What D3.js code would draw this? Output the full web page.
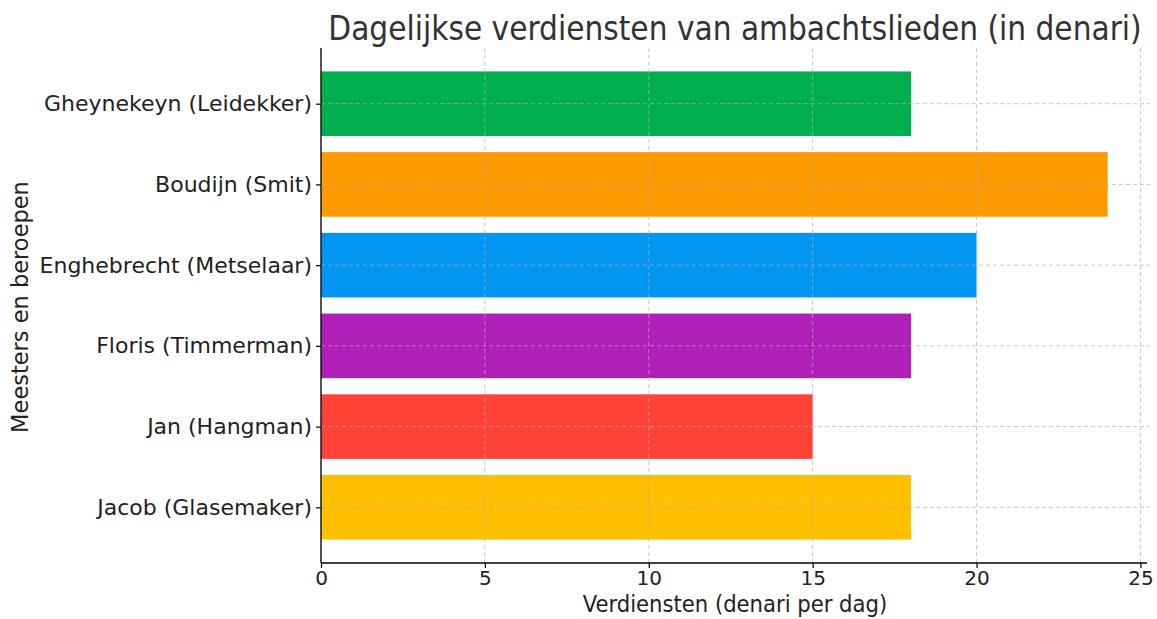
<!DOCTYPE html>
<html>
<head>
<meta charset="utf-8">
<script src="https://cdn.jsdelivr.net/npm/d3@7"></script>
<style>
  html, body { margin: 0; padding: 0; background: #fff; }
  svg { display: block; }
</style>
</head>
<body>
<svg id="chart" width="1157" height="619"></svg>
<script>
// Craftsmen and their daily earnings (bottom to top as drawn)
const craftsmen = [
  "Jacob (Glasemaker)",
  "Jan (Hangman)",
  "Floris (Timmerman)",
  "Enghebrecht (Metselaar)",
  "Boudijn (Smit)",
  "Gheynekeyn (Leidekker)"
];
const earnings = [18, 15, 18, 20, 24, 18];
const barColors = ["#ffc000", "#ff4136", "#b01fb8", "#0096f2", "#ff9900", "#00b04f"];
const xTicks = [0, 5, 10, 15, 20, 25];

const titleText = "Dagelijkse verdiensten van ambachtslieden (in denari)";
const xLabelText = "Verdiensten (denari per dag)";
const yLabelText = "Meesters en beroepen";

const svg = d3.select("#chart");
const plot = { left: 321, right: 1147, top: 48, bottom: 563 };

const x = d3.scaleLinear()
  .domain([0, d3.max(earnings) * 1.05])
  .range([plot.left, plot.right]);

const n = craftsmen.length;
const pad = 0.4 + 0.05 * (n - 1 + 0.8);
const y = d3.scaleLinear()
  .domain([-pad, n - 1 + pad])
  .range([plot.bottom, plot.top]);
const barH = y(0) - y(0.8);

// Bars
svg.append("g")
  .selectAll("rect")
  .data(earnings)
  .join("rect")
  .attr("x", x(0))
  .attr("y", (d, i) => y(i + 0.4))
  .attr("width", d => x(d) - x(0))
  .attr("height", barH)
  .attr("fill", (d, i) => barColors[i]);

// Dashed grid drawn above the bars
const grid = svg.append("g")
  .attr("stroke", "#b0b0b0")
  .attr("stroke-width", 1)
  .attr("stroke-dasharray", "4,3")
  .attr("opacity", 0.7);
grid.selectAll("line.v")
  .data(xTicks)
  .join("line")
  .attr("class", "v")
  .attr("x1", d => x(d)).attr("x2", d => x(d))
  .attr("y1", plot.top).attr("y2", plot.bottom);
grid.selectAll("line.h")
  .data(d3.range(n))
  .join("line")
  .attr("class", "h")
  .attr("x1", plot.left).attr("x2", plot.right + 3)
  .attr("y1", i => y(i)).attr("y2", i => y(i));

// X axis
const xAxis = svg.append("g")
  .attr("transform", `translate(0,${plot.bottom})`)
  .call(d3.axisBottom(x).tickValues(xTicks).tickSize(5).tickPadding(3).tickFormat(d3.format("d")));
xAxis.select(".domain").attr("stroke", "#000").attr("stroke-width", 1.3)
  .attr("d", `M${plot.left},0H${plot.right}`);
xAxis.selectAll(".tick line").attr("stroke", "#000").attr("stroke-width", 1.2);
xAxis.selectAll(".tick text")
  .attr("fill", "#222")
  .style("font-family", "'DejaVu Sans', sans-serif")
  .style("font-size", "20px");

// Y axis
const yAxis = svg.append("g")
  .attr("transform", `translate(${plot.left},0)`)
  .call(d3.axisLeft(y).tickValues(d3.range(n)).tickSize(5).tickPadding(4).tickFormat(i => craftsmen[i]));
yAxis.select(".domain").attr("stroke", "#000").attr("stroke-width", 1.3)
  .attr("d", `M0,${plot.bottom}V${plot.top}`);
yAxis.selectAll(".tick line").attr("stroke", "#000").attr("stroke-width", 1.2);
yAxis.selectAll(".tick text")
  .attr("fill", "#222")
  .style("font-family", "'DejaVu Sans', sans-serif")
  .style("font-size", "22px");

// Title
svg.append("text")
  .attr("x", 735)
  .attr("y", 40)
  .attr("text-anchor", "middle")
  .attr("fill", "#333")
  .style("font-family", "'DejaVu Sans Condensed', 'DejaVu Sans', sans-serif")
  .style("font-size", "33px")
  .text(titleText);

// Axis titles
svg.append("text")
  .attr("x", 735)
  .attr("y", 612)
  .attr("text-anchor", "middle")
  .attr("fill", "#222")
  .style("font-family", "'DejaVu Sans Condensed', 'DejaVu Sans', sans-serif")
  .style("font-size", "23.5px")
  .text(xLabelText);

svg.append("text")
  .attr("transform", `translate(28,307) rotate(-90)`)
  .attr("text-anchor", "middle")
  .attr("fill", "#222")
  .style("font-family", "'DejaVu Sans', sans-serif")
  .style("font-size", "22.5px")
  .text(yLabelText);
</script>
</body>
</html>
